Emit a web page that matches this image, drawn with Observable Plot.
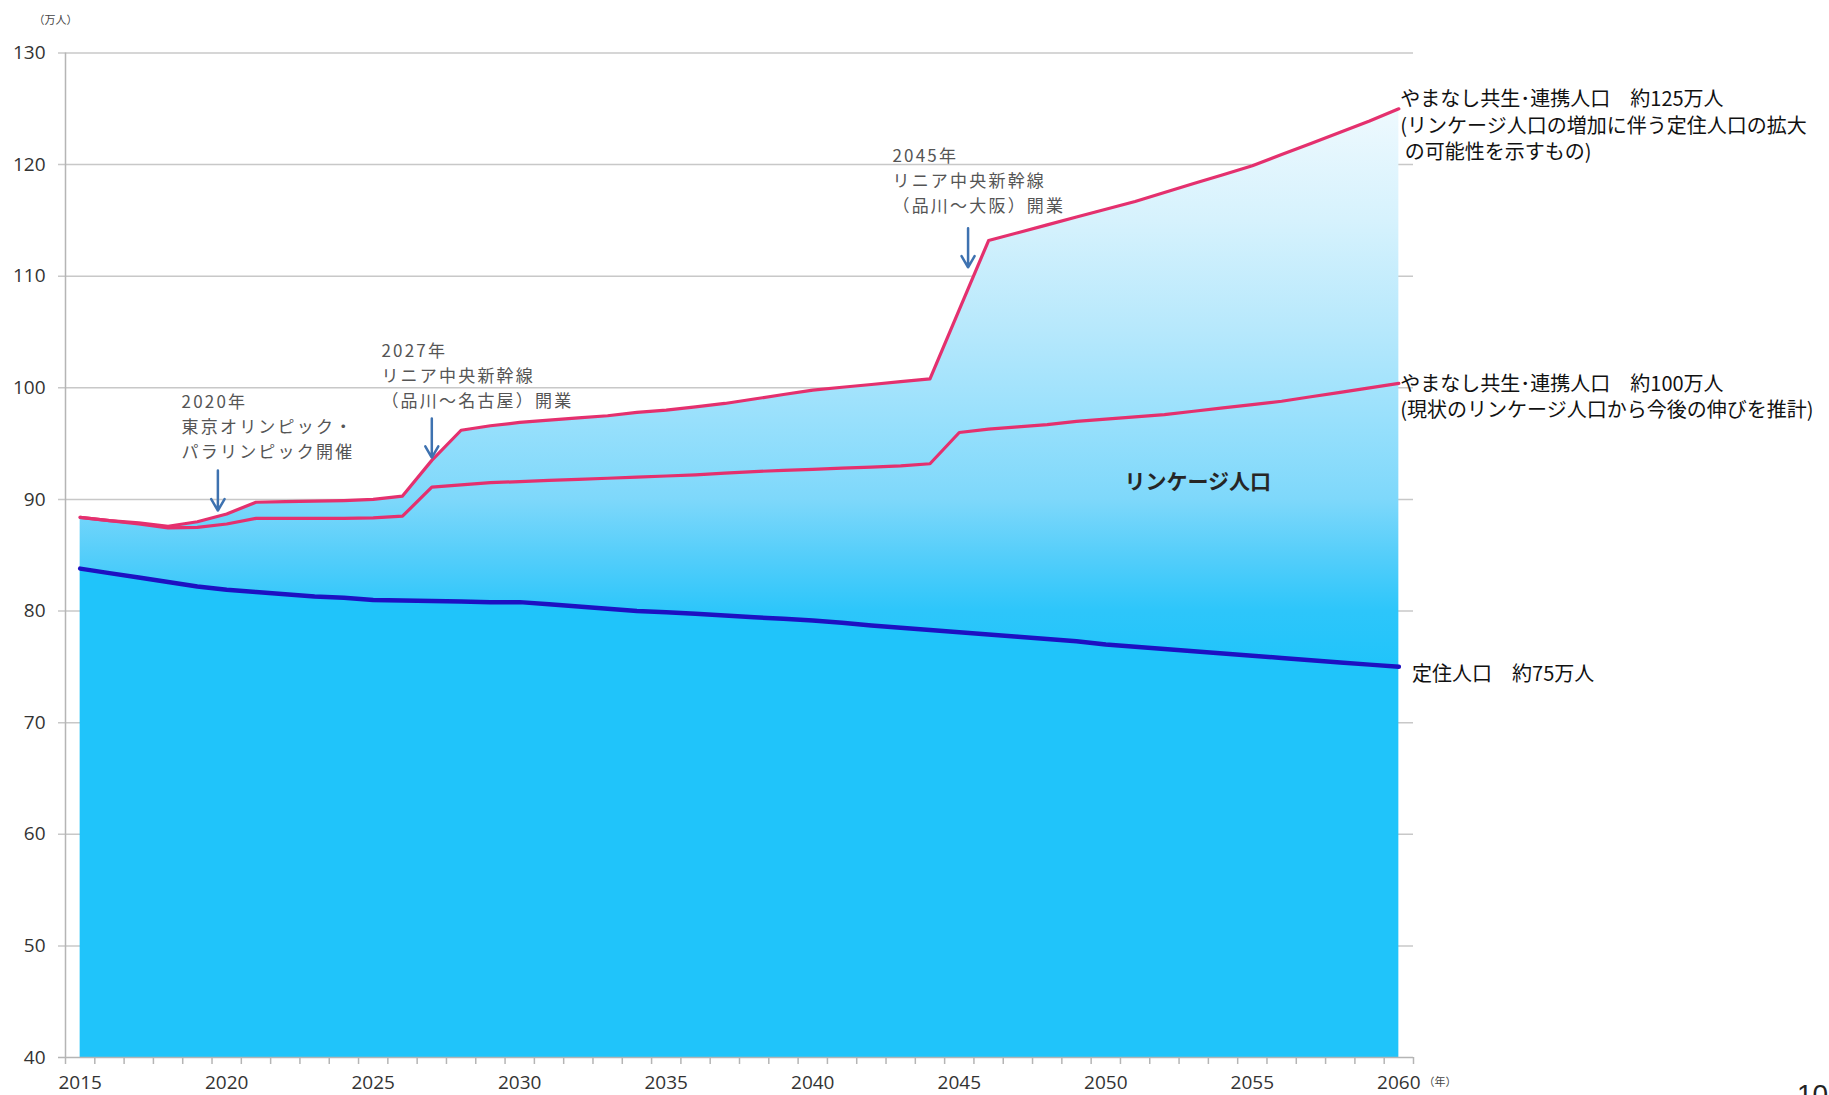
<!DOCTYPE html>
<html><head><meta charset="utf-8">
<script src="https://cdn.jsdelivr.net/npm/d3@7"></script>
<script src="https://cdn.jsdelivr.net/npm/@observablehq/plot@0.6"></script>
<style>
html,body{margin:0;padding:0;background:#fff;overflow:hidden;}
#wrap{position:relative;width:1829px;height:1095px;overflow:hidden;}
#wrap svg{position:absolute;left:0;top:0;}
#page{position:absolute;left:1797px;top:1079px;font:28px 'Liberation Sans',Arial,sans-serif;color:#222;z-index:2;}
</style></head><body><div id="wrap"><div id="page">10</div></div>
<script>
// ---- data ----
const years = d3.range(2015, 2061);
const settled = [
  83.8, 83.4, 83.0, 82.6, 82.2, 81.9, 81.7, 81.5, 81.3, 81.2,
  81.0, 80.95, 80.9, 80.85, 80.8, 80.8, 80.6, 80.4, 80.2, 80.0,
  79.9, 79.75, 79.6, 79.45, 79.3, 79.15, 78.95, 78.7, 78.5, 78.3,
  78.1, 77.9, 77.7, 77.5, 77.3, 77.0, 76.8, 76.6, 76.4, 76.2,
  76.0, 75.8, 75.6, 75.4, 75.2, 75.0
];
const linkage100 = [
  88.4, 88.1, 87.8, 87.45, 87.5, 87.8, 88.3, 88.3, 88.3, 88.3,
  88.35, 88.5, 91.1, 91.3, 91.5, 91.6, 91.7, 91.8, 91.9, 92.0,
  92.1, 92.2, 92.35, 92.5, 92.6, 92.7, 92.8, 92.9, 93.0, 93.2,
  96.0, 96.3, 96.5, 96.7, 97.0, 97.2, 97.4, 97.6, 97.9, 98.2,
  98.5, 98.8, 99.2, 99.6, 100.0, 100.4
];
const linkage125 = [
  88.4, 88.1, 87.9, 87.6, 88.0, 88.7, 89.75, 89.8, 89.85, 89.9,
  90.0, 90.3, 93.5, 96.2, 96.6, 96.9, 97.1, 97.3, 97.5, 97.8,
  98.0, 98.3, 98.6, 99.0, 99.4, 99.8, 100.05, 100.3, 100.55, 100.8,
  107.0, 113.2, 113.9, 114.6, 115.3, 116.0, 116.7, 117.5, 118.3, 119.1,
  119.9, 120.9, 121.9, 122.9, 123.9, 125.0
];
const yTicks = [40, 50, 60, 70, 80, 90, 100, 110, 120, 130];
const xLabelYears = [2015, 2020, 2025, 2030, 2035, 2040, 2045, 2050, 2055, 2060];
const yearBounds = d3.range(2014.5, 2061, 1);

const annotText = [
  "2020年\n東京オリンピック・\nパラリンピック開催",
  "2027年\nリニア中央新幹線\n（品川～名古屋）開業",
  "2045年\nリニア中央新幹線\n（品川～大阪）開業"
];
const annotX = [2018.46, 2025.28, 2042.72];
const annotY = [96.7, 101.2, 118.75];
const arrowX = [2019.7, 2027.0, 2045.3];
const arrowFrom = [92.6, 97.25, 114.3];
const arrowTo = [89.0, 93.75, 110.8];

const endLabels = [
  "やまなし共生･連携人口　約125万人\n(リンケージ人口の増加に伴う定住人口の拡大\n\u00a0の可能性を示すもの)",
  "やまなし共生･連携人口　約100万人\n(現状のリンケージ人口から今後の伸びを推計)",
  "定住人口　約75万人"
];
const endLabelX = [2060.05, 2060.05, 2060.45];
const endLabelY = [123.6, 99.3, 74.5];

const areaLabel = "リンケージ人口";
const unitLabel = "（万人）";
const yearUnitLabel = "（年）";

// ---- build ----
const table = years.map((year, i) => ({year, settled: settled[i], low: linkage100[i], high: linkage125[i]}));
const annots = annotText.map((t, i) => ({t, x: annotX[i], y: annotY[i]}));
const arrows = arrowX.map((x, i) => ({x, y1: arrowFrom[i], y2: arrowTo[i]}));
const labels = endLabels.map((t, i) => ({t, x: endLabelX[i], y: endLabelY[i]}));

const JP = "'Noto Sans CJK JP','Noto Sans',sans-serif";
const NUM = "'Open Sans','Noto Sans',sans-serif";
const PINK = "#e4306e";
const GRID = "#c8c8c8";

const chart = Plot.plot({
  width: 1829,
  height: 1095,
  marginLeft: 65,
  marginRight: 416,
  marginTop: 52.5,
  marginBottom: 38,
  style: {background: "white", fontFamily: JP, overflow: "hidden"},
  x: {type: "linear", domain: [2014.5, 2060.5], axis: null},
  y: {type: "linear", domain: [40, 130], axis: null},
  marks: [
    Plot.ruleY(yTicks.slice(1), {stroke: GRID, strokeWidth: 1.5, insetLeft: -7}),
    Plot.areaY(table, {x: "year", y1: 40, y2: "settled", fill: "#20c4fa"}),
    Plot.areaY(table, {x: "year", y1: "settled", y2: "high", fill: "url(#linkGrad)"}),
    Plot.ruleY([40], {stroke: "#b5b5b5", strokeWidth: 1.5, insetLeft: -7}),
    Plot.ruleX([2014.5], {y1: 40, y2: 130, stroke: "#b5b5b5", strokeWidth: 1.5}),
    Plot.ruleX(yearBounds, {y1: 40, y2: 40, insetBottom: -7, stroke: "#b5b5b5", strokeWidth: 1.5}),
    Plot.lineY(table, {x: "year", y: "low", stroke: PINK, strokeWidth: 3.2}),
    Plot.lineY(table, {x: "year", y: "high", stroke: PINK, strokeWidth: 3.2}),
    Plot.lineY(table, {x: "year", y: "settled", stroke: "#1d10c2", strokeWidth: 4.5}),
    Plot.arrow(arrows, {x1: "x", x2: "x", y1: "y1", y2: "y2", stroke: "#3e72b0", strokeWidth: 2.5}),
    Plot.text(yTicks, {x: 2014.5, y: d => d, text: d => String(d), dx: -20, textAnchor: "end", fontSize: 19, fontFamily: NUM, fill: "#333"}),
    Plot.text(xLabelYears, {x: d => d, y: 40, text: d => String(d), dy: 25, fontSize: 19, fontFamily: NUM, fill: "#333"}),
    Plot.text([unitLabel], {x: 2014.5, y: 130, text: d => d, dx: -32, dy: -33, textAnchor: "start", fontSize: 11, fill: "#444"}),
    Plot.text([yearUnitLabel], {x: 2060.5, y: 40, text: d => d, dx: 10, dy: 25, textAnchor: "start", fontSize: 11, fill: "#444"}),
    Plot.text(annots, {x: "x", y: "y", text: "t", textAnchor: "start", lineAnchor: "middle", lineHeight: 1.47, fontSize: 17, fill: "#555", ariaDescription: "annot"}),
    Plot.text(labels, {x: "x", y: "y", text: "t", textAnchor: "start", lineAnchor: "middle", lineHeight: 1.32, fontSize: 20, fill: "#111"}),
    Plot.text([areaLabel], {x: 2053.14, y: 91.5, text: d => d, fontSize: 21, fontWeight: "bold", fill: "#262626"})
  ]
});

// gradient for the linkage band
const ys = chart.scale("y");
const ns = "http://www.w3.org/2000/svg";
const defs = document.createElementNS(ns, "defs");
const grad = document.createElementNS(ns, "linearGradient");
grad.setAttribute("id", "linkGrad");
grad.setAttribute("gradientUnits", "userSpaceOnUse");
grad.setAttribute("x1", 0); grad.setAttribute("x2", 0);
grad.setAttribute("y1", ys.apply(125)); grad.setAttribute("y2", ys.apply(75));
[[0, "#eef9fe"], [0.2, "#d6f2fd"], [0.4, "#b6e8fc"], [0.56, "#98e0fc"], [0.7, "#7ed8fb"], [0.8, "#55cefa"], [0.9, "#2dc6fa"], [1, "#20c4fa"]].forEach(([o, c]) => {
  const s = document.createElementNS(ns, "stop");
  s.setAttribute("offset", o); s.setAttribute("stop-color", c);
  grad.appendChild(s);
});
defs.appendChild(grad);
chart.insertBefore(defs, chart.firstChild);

chart.querySelectorAll('g[aria-description="annot"] text').forEach(t => t.style.letterSpacing = "2.2px");
chart.querySelectorAll("text").forEach(t => t.setAttribute("xml:space", "preserve"));

document.getElementById("wrap").appendChild(chart);
</script></body></html>
